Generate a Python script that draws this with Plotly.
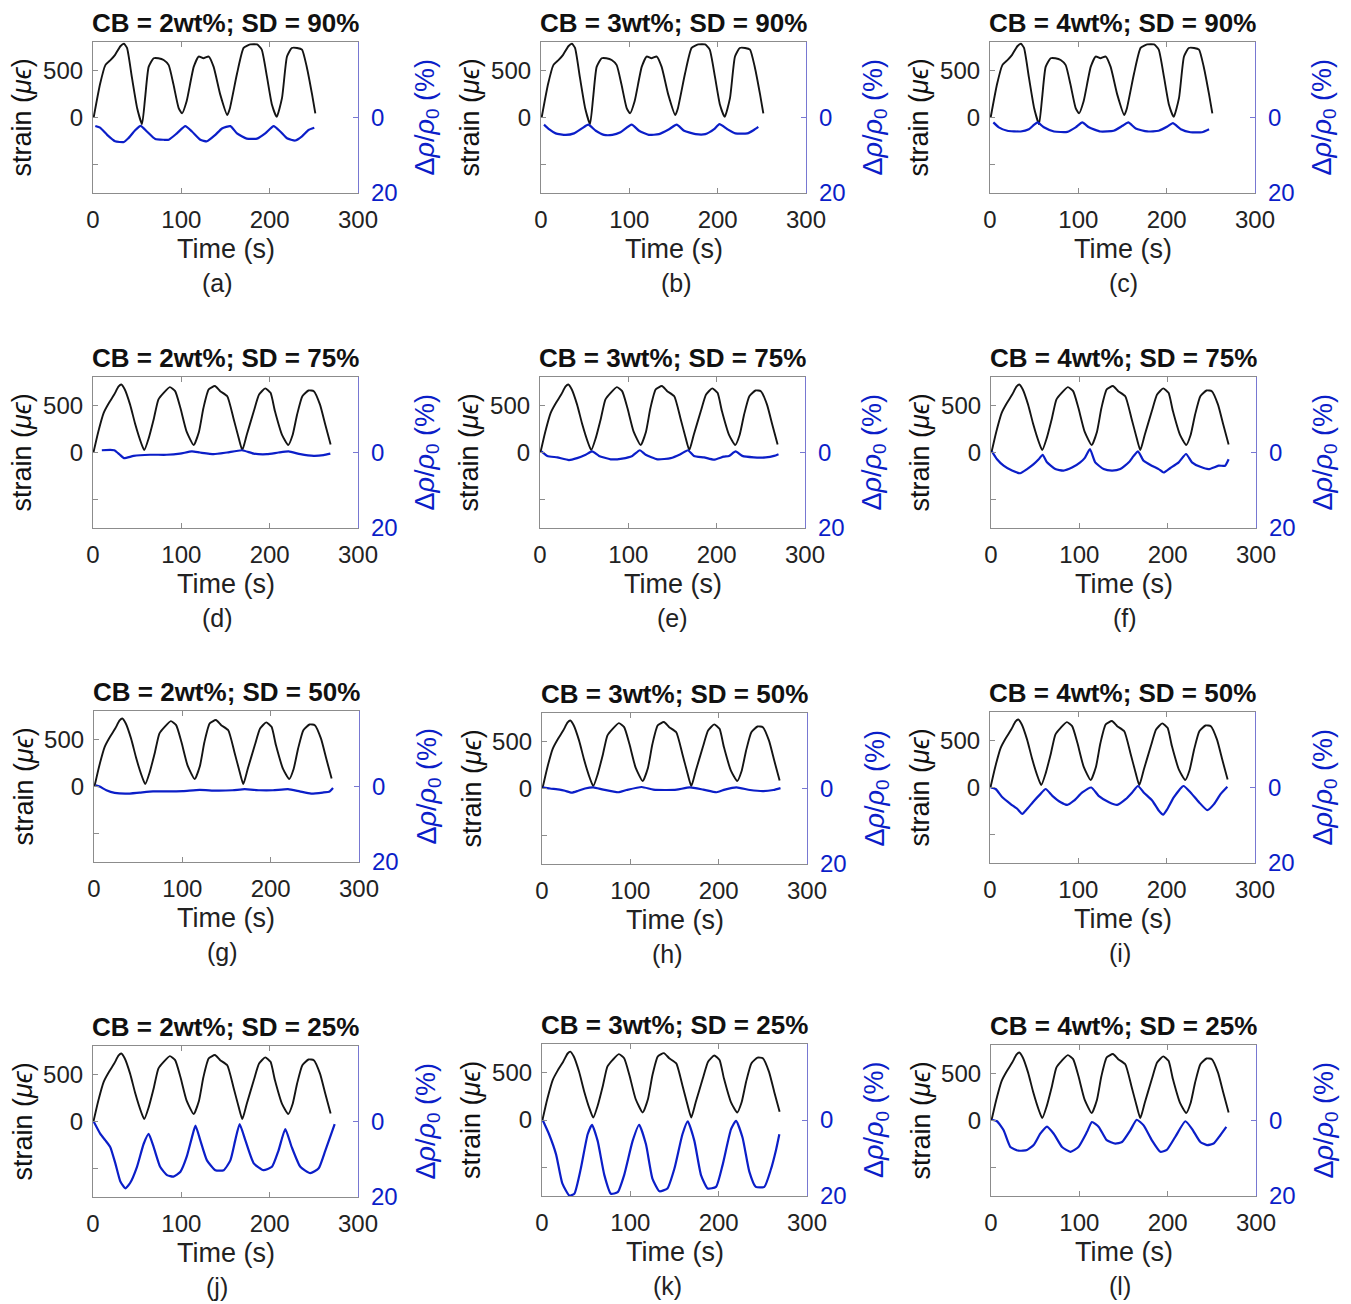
import plotly.graph_objects as go

W, H = 1351, 1304
FONT = "Liberation Sans, Arial, Helvetica, sans-serif"
BLACK = "#141414"
BLUE = "#0b1ec8"
BLUE_AX = "#7878d2"
GRAY = "#8c8c8c"

# ---------------- data ----------------
titles = ["CB = 2wt%; SD = 90%", "CB = 3wt%; SD = 90%", "CB = 4wt%; SD = 90%",
          "CB = 2wt%; SD = 75%", "CB = 3wt%; SD = 75%", "CB = 4wt%; SD = 75%",
          "CB = 2wt%; SD = 50%", "CB = 3wt%; SD = 50%", "CB = 4wt%; SD = 50%",
          "CB = 2wt%; SD = 25%", "CB = 3wt%; SD = 25%", "CB = 4wt%; SD = 25%"]
panel_labels = ["(a)", "(b)", "(c)", "(d)", "(e)", "(f)",
                "(g)", "(h)", "(i)", "(j)", "(k)", "(l)"]
x_ticks = [0, 100, 200, 300]
strain_ticks = [-500, 0, 500]
strain_ticktext = ["", "0", "500"]
rho_ticks = [0, 20]

# strain, SD = 90 % tests
t_strain_90 = [0.75, 8, 14, 20, 25, 31, 35, 38.5, 44, 50, 55.5, 59, 63, 68.7, 74, 80, 85.7, 91,
               97, 100.8, 106, 114, 119.6, 125, 131, 136.6, 144, 152, 155, 163, 170.5, 178,
               185.7, 191, 197, 202.6, 208, 214, 219.6, 225, 231, 236.6, 242, 248, 251.7]
strain_90 = [0, 354, 555, 610, 664, 755, 781, 737, 427, 99, -70, 208, 536, 628, 628, 610, 555,
             354, 99, 44, 172, 536, 646, 628, 646, 536, 245, 26, 99, 463, 737, 774, 774, 719,
             427, 135, 7, 208, 646, 737, 737, 719, 536, 245, 44]

# strain, SD = 75 / 50 / 25 % tests
t_strain = [0.5, 6, 12, 18, 24, 29, 32, 36, 42, 48, 54, 58, 63, 69, 74, 80, 87, 93, 99, 106,
            114, 120, 125, 131, 138, 144, 152, 159, 165, 169, 174, 182, 188, 195, 201, 206,
            214, 221, 226, 231, 237, 244, 250, 257, 263, 269]
strain = [0, 221, 418, 525, 614, 700, 720, 668, 507, 293, 114, 25, 150, 364, 561, 632, 693,
          650, 471, 221, 79, 221, 471, 668, 704, 650, 596, 364, 150, 25, 186, 436, 614, 679,
          632, 436, 186, 79, 186, 400, 596, 657, 650, 507, 293, 86]

# resistance change (%), one per panel
t_a = [2.6, 8, 16, 25, 35, 40, 48, 54, 61, 70.5, 80, 85.7, 95, 104.5, 112, 121.5, 129, 138.5,
       146, 155.5, 163, 174, 185.7, 195, 204.5, 212, 219.6, 229, 236.6, 244, 250.5]
r_a = [2.25, 2.7, 4.6, 6.3, 6.5, 5.5, 3.3, 2.2, 3.7, 5.7, 5.9, 5.9, 4.2, 2.3, 3.7, 5.9, 6.3,
       4.6, 2.9, 2.3, 4.2, 5.6, 5.6, 4.2, 2.3, 3.7, 5.5, 6.1, 5.0, 3.3, 2.7]

t_b = [3.4, 9, 16.6, 28, 37.4, 46.8, 53.6, 62, 71.3, 80.8, 90, 102.6, 111, 122, 133.6, 145,
       153.6, 162, 175, 186, 196, 202, 211, 220, 233.6, 241, 246]
r_b = [1.9, 3.1, 4.2, 4.6, 4.2, 2.8, 1.9, 3.5, 4.6, 4.6, 3.9, 1.9, 3.5, 4.6, 4.4, 3.1, 1.9,
       3.5, 4.4, 4.4, 3.1, 1.75, 3.1, 4.2, 4.2, 3.3, 2.5]

t_c = [3.8, 10, 19.6, 34.7, 44, 50, 54, 61, 72.5, 87.5, 97, 104.5, 112, 125, 140, 150, 156.6,
       165, 178, 191, 200.8, 207, 216, 227, 240, 248]
r_c = [1.3, 2.6, 3.5, 3.7, 3.1, 1.9, 1.3, 2.6, 3.7, 3.8, 2.6, 1.3, 2.6, 3.7, 3.5, 2.2, 1.3,
       2.9, 3.7, 3.5, 2.4, 1.5, 3.1, 3.9, 3.9, 3.1]

t_d = [10, 24, 30, 35, 46, 64.5, 83.4, 98.5, 112, 121, 136.6, 151.7, 168.7, 182, 197, 210,
       221.5, 234.7, 250, 261, 268.7]
r_d = [-0.6, -0.6, 0.5, 1.5, 0.9, 0.6, 0.6, 0.3, -0.3, 0, 0.45, 0, -0.6, 0.3, 0.45, 0, -0.3,
       0.45, 0.9, 0.7, 0.3]

t_e = [1.5, 8.3, 19.6, 32.8, 42, 51.7, 59, 66.8, 80, 93, 104.5, 113, 119.6, 133, 148, 159,
       167.5, 174.3, 185.7, 197, 208, 214, 221.5, 229, 242, 255.5, 265, 270]
r_e = [-0.3, 0.9, 1.3, 2.0, 1.5, 0.6, -0.3, 0.9, 1.8, 1.6, 0.9, -0.6, 0.6, 1.8, 1.5, 0.45,
       -0.6, 0.9, 1.3, 1.9, 1.1, 0.9, -0.3, 0.9, 1.3, 1.3, 0.9, 0.45]

t_f = [1, 6.8, 14.3, 23.8, 33, 40.8, 48.3, 54, 58.5, 63.4, 72.8, 82, 91.7, 101, 106, 112,
       118, 127.5, 137, 146.4, 156, 161.5, 166.4, 172.8, 182, 189.8, 195.5, 203, 212.5,
       220.8, 227.5, 237, 246.4, 257.7, 265, 269]
r_f = [-0.3, 1.8, 3.5, 4.8, 5.5, 4.4, 3.1, 1.8, 0.6, 2.6, 4.4, 4.8, 4.0, 2.6, 1.5, -0.9, 2.6,
       4.4, 4.8, 4.4, 2.6, 0.9, -0.3, 2.2, 3.5, 4.4, 5.3, 4.1, 2.6, 0.4, 2.6, 3.8, 4.4, 3.5,
       3.5, 1.8]

t_g = [1.9, 6.4, 14, 23.4, 36.6, 51.7, 66.8, 82, 100.8, 119.6, 138.5, 157, 170.6, 187.5,
       202.6, 219.6, 232.8, 245.7, 259, 266.8, 270.6]
r_g = [-0.3, 0, 1.0, 1.7, 1.9, 1.6, 1.3, 1.3, 1.2, 0.9, 1.1, 1.0, 0.7, 1.0, 1.0, 0.7, 1.3,
       1.9, 1.6, 1.3, 0.4]

t_h = [0.8, 9, 20, 26, 33.6, 41, 48.7, 58, 69.4, 86.4, 95.8, 112.8, 126, 141, 152.5, 167.5,
       182.6, 197.7, 207, 220, 235.5, 250.6, 262, 270]
r_h = [-0.3, 0, 0.3, 0.6, 1.1, 0.6, 0, -0.3, 0.3, 1.0, 0.4, -0.4, 0.3, 0.4, 0.3, -0.3, 0.3,
       1.0, 0.3, -0.3, 0.4, 0.7, 0.4, -0.1]

t_i = [0.75, 6.4, 14, 23.4, 31, 36.6, 42, 50, 57, 63, 70.6, 80, 87.5, 95, 104.5, 114.7, 123,
       134.7, 144, 153.6, 161, 167.5, 174, 183.8, 191, 196, 200.8, 208, 219, 227, 236.6, 246,
       253.6, 261, 268.7]
r_i = [0, 0.4, 2.6, 4.4, 5.7, 7.0, 5.7, 3.5, 1.75, 0.4, 2.2, 3.9, 4.6, 3.5, 1.3, 0, 2.2, 3.9,
       4.6, 3.1, 1.3, -0.4, 1.3, 3.5, 6.1, 7.2, 5.7, 2.6, -0.4, 1.3, 3.9, 6.0, 4.4, 1.75, -0.2]

t_j = [0.75, 8.3, 14, 19.6, 25.3, 31, 36.6, 42, 49.8, 57.4, 63, 68.7, 76, 83.8, 91, 99, 106,
       112, 116, 121.5, 129, 138.5, 148, 155.5, 161, 166, 172.5, 182, 193, 202.6, 210, 217.7,
       225, 234.7, 246, 255.5, 263, 273.6]
r_j = [0, 3.3, 5.0, 6.8, 11.1, 15.9, 17.7, 16.3, 12.0, 5.9, 3.3, 6.8, 12.0, 14.2, 14.6, 13.3,
       9.4, 4.2, 1.1, 5.0, 10.3, 12.9, 12.9, 10.3, 5.0, 0.7, 5.0, 11.1, 12.9, 12.0, 7.7, 2.0,
       6.8, 12.0, 13.7, 12.4, 7.7, 0.7]

t_k = [0.75, 8, 16, 23, 31, 36.6, 44, 51.7, 56.6, 63, 70.6, 78, 85.7, 93, 102.6, 110, 117.7,
       125, 133, 142, 150, 159, 165, 172.5, 180, 187.5, 197, 204.5, 214, 219.6, 227, 234.7,
       242, 251.7, 259, 265, 268.7]
r_k = [0, 3.75, 9.1, 16.7, 19.9, 19.4, 12.7, 3.75, 1.25, 5.5, 14.5, 19.4, 19.0, 14.5, 5.5,
       1.25, 6.4, 15.4, 18.75, 18.0, 12.7, 3.75, 0.36, 5.5, 14.5, 18.0, 17.6, 11.8, 2.4, 0.2,
       4.6, 13.6, 17.6, 17.6, 13.1, 7.8, 3.75]

t_l = [1, 6.8, 14.3, 21.9, 31.3, 40.8, 48.3, 55.8, 63.4, 71, 80.4, 90, 99, 108.7, 114.3, 122,
       131, 140.8, 148.3, 157.7, 165, 172.8, 182, 191.7, 199, 208.7, 220, 227.5, 237, 244.5,
       252, 259.6, 266.4]
r_l = [-0.2, 0.2, 2.6, 7.0, 8.0, 7.8, 6.5, 3.5, 1.6, 3.5, 7.0, 8.3, 7.0, 3.0, 0.4, 1.7, 5.2,
       6.1, 5.7, 2.6, -0.2, 1.3, 5.2, 8.3, 7.8, 4.3, 0.2, 2.2, 5.7, 6.5, 6.1, 3.9, 1.7]

rho_t = [t_a, t_b, t_c, t_d, t_e, t_f, t_g, t_h, t_i, t_j, t_k, t_l]
rho_v = [r_a, r_b, r_c, r_d, r_e, r_f, r_g, r_h, r_i, r_j, r_k, r_l]

# ---------------- layout (pixel boxes: left, right, top, bottom) ----------------
boxes = [(93, 358, 42, 193), (541, 806, 42, 193), (990, 1255, 42, 193),
         (93, 358, 377, 528), (540, 805, 377, 528), (991, 1256, 377, 528),
         (94, 359, 711, 862), (542, 807, 713, 864), (990, 1255, 712, 863),
         (93, 358, 1046, 1197), (542, 807, 1044, 1196), (991, 1256, 1045, 1196)]
label_x = [218, 676, 1123, 218, 672, 1125, 222, 667, 1120, 217, 667, 1120]


def ax_name(kind, n):
    return kind if n == 1 else f"{kind}{n}"


fig = go.Figure()
layout = dict(width=W, height=H, margin=dict(l=0, r=0, t=0, b=0, pad=0),
              paper_bgcolor="white", plot_bgcolor="white", showlegend=False,
              font=dict(family=FONT, color="#222"))
annotations = []

for i in range(12):
    l, r, tp, bt = boxes[i]
    xn, yl, yr = i + 1, 2 * i + 1, 2 * i + 2
    xref, ylref, yrref = ax_name("x", xn), ax_name("y", yl), ax_name("y", yr)
    dom_x = [l / W, r / W]
    dom_y = [1 - bt / H, 1 - tp / H]

    if i < 3:
        ts, ss = t_strain_90, strain_90
    else:
        ts, ss = t_strain, strain
    fig.add_trace(go.Scatter(x=ts, y=ss, mode="lines", xaxis=xref, yaxis=ylref,
                             line=dict(color=BLACK, width=1.9, shape="spline", smoothing=0.5)))
    fig.add_trace(go.Scatter(x=rho_t[i], y=rho_v[i], mode="lines", xaxis=xref, yaxis=yrref,
                             line=dict(color=BLUE, width=2.2, shape="spline", smoothing=0.5)))

    layout["x" + ("axis" if xn == 1 else f"axis{xn}")] = dict(
        domain=dom_x, anchor=ylref, range=[0, 300], tickvals=x_ticks, automargin=False,
        ticks="inside", ticklen=5, tickcolor=GRAY, showline=True, linecolor=GRAY,
        linewidth=1.2, mirror="ticks", showgrid=False, zeroline=False,
        tickfont=dict(size=24, color="#222"), ticklabelstandoff=5)
    layout["y" + ("axis" if yl == 1 else f"axis{yl}")] = dict(
        domain=dom_y, anchor=xref, range=[-800, 800], tickvals=strain_ticks,
        ticktext=strain_ticktext, ticks="inside", ticklen=5, tickcolor=GRAY,
        automargin=False, showline=True, linecolor=GRAY, linewidth=1.2, showgrid=False,
        zeroline=False, tickfont=dict(size=24, color="#222"), ticklabelstandoff=4)
    layout["y" + f"axis{yr}"] = dict(
        domain=dom_y, anchor=xref, overlaying=ylref, side="right", range=[20, -20],
        tickvals=rho_ticks, ticks="inside", ticklen=5, tickcolor=BLUE_AX, automargin=False,
        showline=True, linecolor=BLUE_AX, linewidth=1.2, showgrid=False, zeroline=False,
        tickfont=dict(size=24, color=BLUE), ticklabelstandoff=7)

    cx = (l + r) / 2
    cy = (tp + bt) / 2
    annotations += [
        dict(text=f"<b>{titles[i]}</b>", x=cx / W, y=1 - (tp - 19) / H,
             xref="paper", yref="paper", xanchor="center", yanchor="middle",
             showarrow=False, font=dict(size=26, color="#111")),
        dict(text="Time (s)", x=cx / W, y=1 - (bt + 56) / H,
             xref="paper", yref="paper", xanchor="center", yanchor="middle",
             showarrow=False, font=dict(size=27, color="#222")),
        dict(text=panel_labels[i], x=label_x[i] / W, y=1 - (bt + 90) / H,
             xref="paper", yref="paper", xanchor="center", yanchor="middle",
             showarrow=False, font=dict(size=25, color="#222")),
        dict(text="strain (<i>μϵ</i>)", x=(l - 71) / W, y=1 - cy / H, textangle=-90,
             xref="paper", yref="paper", xanchor="center", yanchor="middle",
             showarrow=False, font=dict(size=27, color="#111")),
        dict(text="Δ<i>ρ</i>/<i>ρ</i><sub>0</sub> (%)", x=(r + 69) / W, y=1 - cy / H,
             textangle=-90, xref="paper", yref="paper", xanchor="center",
             yanchor="middle", showarrow=False, font=dict(size=27, color=BLUE)),
    ]

layout["annotations"] = annotations
fig.update_layout(**layout)
fig.write_html("out.html")
